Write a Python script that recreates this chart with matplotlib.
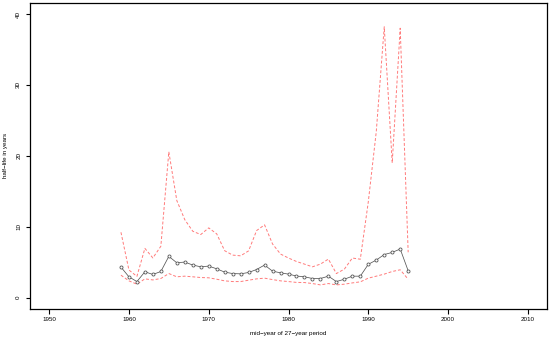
import matplotlib
matplotlib.use("Agg")
import matplotlib.pyplot as plt

years = list(range(1959, 1996))
half_life = [4.31, 2.94, 2.27, 3.65, 3.27, 3.69, 5.82, 4.92, 5.02, 4.60,
             4.35, 4.45, 4.07, 3.60, 3.40, 3.36, 3.55, 3.97, 4.60, 3.74,
             3.50, 3.32, 3.05, 2.94, 2.70, 2.70, 3.03, 2.27, 2.60, 3.03,
             3.03, 4.70, 5.30, 6.08, 6.38, 6.86, 3.79]
upper = [9.22, 3.90, 3.00, 6.95, 5.60, 7.25, 20.57, 13.70, 11.00, 9.37,
         8.90, 9.84, 9.00, 6.62, 6.00, 5.90, 6.60, 9.46, 10.27, 7.57,
         6.15, 5.59, 5.10, 4.73, 4.35, 4.73, 5.44, 3.40, 4.02, 5.59,
         5.42, 13.50, 23.40, 38.20, 19.00, 38.00, 6.40]
lower = [3.17, 2.37, 1.90, 2.65, 2.50, 2.70, 3.40, 2.94, 3.03, 2.94,
         2.84, 2.80, 2.60, 2.37, 2.27, 2.27, 2.46, 2.65, 2.75, 2.55,
         2.37, 2.27, 2.15, 2.13, 1.99, 1.80, 1.99, 1.80, 1.90, 2.08,
         2.23, 2.75, 3.03, 3.32, 3.69, 3.93, 2.60]
x_ticks = [1950, 1960, 1970, 1980, 1990, 2000, 2010]
y_ticks = [0, 10, 20, 30, 40]

plt.rcParams['font.family'] = ['Liberation Sans', 'DejaVu Sans']

fig = plt.figure(figsize=(5.5, 3.43), dpi=100)
ax = fig.add_axes([30/550, 34/343, 517/550, 306.3/343])

red = '#ff7a7a'
ax.plot(years, upper, color=red, lw=0.7, dashes=(3, 2))
ax.plot(years, lower, color=red, lw=0.7, dashes=(3, 2))
ax.plot(years, half_life, color='#555555', lw=0.55, marker='o', ms=2.2,
        mfc='white', mec='#555555', mew=0.6)

ax.set_xlim(1947.6, 2012.4)
ax.set_ylim(-1.6, 41.6)
ax.set_xticks(x_ticks)
ax.set_yticks(y_ticks)
ax.tick_params(axis='x', length=3.4, width=0.8, labelsize=4.5, pad=2.5)
ax.tick_params(axis='y', length=2.8, width=0.8, labelsize=4.5, pad=3.5,
               labelrotation=90)
for lbl in ax.get_yticklabels():
    lbl.set_va('center')
for s in ax.spines.values():
    s.set_linewidth(0.9)

ax.set_xlabel('mid\u2212year of 27\u2212year period', fontsize=4.5, labelpad=6)
ax.set_ylabel('half\u2212life in years', fontsize=4.5, labelpad=6)

fig.savefig('out.png', dpi=100)
